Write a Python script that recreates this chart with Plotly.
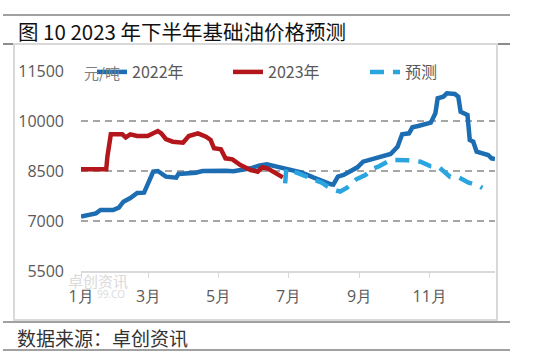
import plotly.graph_objects as go

# ---- data (day of year, value) ----
month_ticks = [0, 59, 120, 181, 243, 304]
month_labels = ["1月", "3月", "5月", "7月", "9月", "11月"]
y_ticks = [5500, 7000, 8500, 10000, 11500]
y_labels = ["5500", "7000", "8500", "10000", "11500"]

days_2022 = [0, 7, 13, 17, 28, 33, 37, 43, 49, 55, 58, 63, 67, 74, 83, 85, 100, 106, 126, 133,
             148, 155, 162, 171, 183, 192, 203, 211, 218, 220, 224, 229, 235, 241, 246, 252,
             258, 264, 270, 276, 280, 286, 289, 294, 300, 305, 309, 311, 316, 319, 326, 329,
             331, 337, 339, 342, 345, 351, 355, 358, 361]
vals_2022 = [7130, 7180, 7230, 7330, 7330, 7400, 7580, 7690, 7840, 7850, 8080, 8480, 8500, 8330,
             8300, 8410, 8450, 8500, 8510, 8490, 8580, 8660, 8700, 8630, 8560, 8460, 8300, 8180,
             8100, 8090, 8330, 8380, 8480, 8610, 8780, 8830, 8910, 8950, 9010, 9230, 9600, 9630,
             9810, 9850, 9900, 9950, 10230, 10680, 10730, 10830, 10810, 10730, 10280, 10180,
             9430, 9380, 9080, 9030, 8980, 8880, 8860]

days_2023 = [0, 22, 23, 26, 36, 39, 43, 49, 58, 63, 67, 70, 74, 80, 89, 94, 102, 109, 113, 116,
             122, 126, 132, 139, 148, 154, 158, 163, 171, 176]
vals_2023 = [8550, 8550, 8930, 9600, 9600, 9510, 9600, 9550, 9550, 9630, 9700, 9630, 9460, 9380,
             9350, 9550, 9630, 9530, 9430, 9180, 9150, 8880, 8850, 8680, 8530, 8480, 8610, 8570,
             8430, 8310]

days_fc = [178, 179, 188, 200, 210, 218, 226, 232, 240, 248, 254, 260, 270, 285, 296, 305, 312,
           318, 322, 330, 338, 346, 350]
vals_fc = [8130, 8560, 8450, 8300, 8150, 7960, 7880, 8000, 8250, 8380, 8560, 8640, 8830, 8820,
           8780, 8640, 8620, 8440, 8320, 8300, 8150, 8070, 7990]

names = ["2022年", "2023年", "预测"]
colors = ["#1D6DB3", "#B3171C", "#2AA5DF"]

W, H = 536, 356
L, R, T, B = 81, 41, 71, 85
PW, PH = W - L - R, H - T - B


def px(x):
    return (x - L) / PW


def py(y):
    return (H - B - y) / PH


fig = go.Figure()
fig.add_trace(go.Scatter(x=days_2022, y=vals_2022, mode="lines", name=names[0], legend="legend",
                         line=dict(color=colors[0], width=4.5)))
fig.add_trace(go.Scatter(x=days_2023, y=vals_2023, mode="lines", name=names[1], legend="legend2",
                         line=dict(color=colors[1], width=4.5)))
fig.add_trace(go.Scatter(x=days_fc, y=vals_fc, mode="lines", name=names[2], legend="legend3",
                         line=dict(color=colors[2], width=4.5, dash="14px,9px")))

shapes = [
    dict(type="line", xref="paper", yref="paper", x0=px(3), x1=px(510), y0=py(15), y1=py(15),
         line=dict(color="#444", width=1)),
    dict(type="line", xref="paper", yref="paper", x0=px(3), x1=px(510), y0=py(44), y1=py(44),
         line=dict(color="#8c8c8c", width=2)),
    dict(type="rect", xref="paper", yref="paper", x0=px(14), x1=px(497), y0=py(320), y1=py(44),
         line=dict(color="#d9d9d9", width=2)),
    dict(type="line", xref="paper", yref="paper", x0=px(3), x1=px(510), y0=py(322), y1=py(322),
         line=dict(color="#444", width=1)),
    dict(type="line", xref="paper", yref="paper", x0=px(3), x1=px(510), y0=py(350), y1=py(350),
         line=dict(color="#444", width=1)),
]

annotations = [
    dict(text="图 10 2023 年下半年基础油价格预测", xref="paper", yref="paper", x=px(16), y=py(31),
         xanchor="left", yanchor="middle", showarrow=False,
         font=dict(family="Noto Sans CJK SC", size=20.5, color="#111")),
    dict(text="数据来源：卓创资讯", xref="paper", yref="paper", x=px(15), y=py(337),
         xanchor="left", yanchor="middle", showarrow=False,
         font=dict(family="Noto Sans CJK SC", size=19, color="#333")),
    dict(text="元/吨", xref="paper", yref="paper", x=px(82), y=py(72),
         xanchor="left", yanchor="middle", showarrow=False,
         font=dict(family="Noto Sans CJK SC", size=15, color="#7f7f7f")),
    dict(text="卓创资讯", xref="paper", yref="paper", x=px(66), y=py(280),
         xanchor="left", yanchor="middle", showarrow=False,
         font=dict(family="Noto Sans CJK SC", size=15, color="#dadada")),
    dict(text="99.CO", xref="paper", yref="paper", x=px(95), y=py(294),
         xanchor="left", yanchor="middle", showarrow=False,
         font=dict(family="Open Sans", size=10, color="#dadada")),
]

leg_common = dict(orientation="h", yanchor="middle", bgcolor="rgba(0,0,0,0)",
                  font=dict(family="Noto Sans CJK SC", size=16, color="#595959"),
                  itemwidth=30)

fig.update_layout(
    width=W, height=H, margin=dict(l=L, r=R, t=T, b=B),
    paper_bgcolor="white", plot_bgcolor="white",
    font=dict(family="Open Sans", size=16, color="#595959"),
    showlegend=True,
    legend=dict(x=px(92), y=py(72), **leg_common),
    legend2=dict(x=px(228), y=py(72), **leg_common),
    legend3=dict(x=px(365), y=py(72), **leg_common),
    shapes=shapes, annotations=annotations,
    xaxis=dict(range=[0, 361], tickvals=month_ticks, ticktext=month_labels, showgrid=False,
               showline=True, linecolor="#d9d9d9", linewidth=2, ticks="outside", ticklen=5,
               tickcolor="#d9d9d9", tickwidth=1, zeroline=False, ticklabelstandoff=5,
               tickfont=dict(family="Open Sans", size=16, color="#595959")),
    yaxis=dict(range=[5500, 11500], tickvals=y_ticks, ticktext=y_labels, showgrid=True,
               gridcolor="#a6a6a6", gridwidth=1.5, griddash="7px,5px", zeroline=False,
               showline=False, ticklabelstandoff=16,
               tickfont=dict(family="Open Sans", size=16, color="#595959")),
)

fig.write_html("out.html", config={"displayModeBar": False},
               post_script="document.body.style.margin='0px';")
